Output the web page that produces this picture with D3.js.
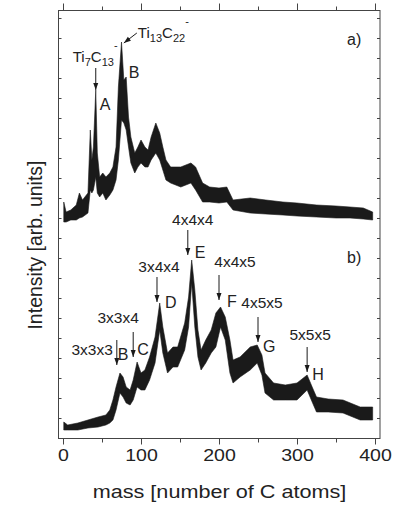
<!DOCTYPE html>
<html>
<head>
<meta charset="utf-8">
<script src="https://cdn.jsdelivr.net/npm/d3@7"></script>
<style>
  html, body { margin: 0; padding: 0; background: #fff; }
  svg { display: block; font-family: "Liberation Sans", Arial, sans-serif; }
</style>
</head>
<body>
<script>
// Spectrum a) (upper trace): mass and the low/high edges of the noisy band (arb. units)
const massA = [1, 4, 10, 17, 21, 25, 32, 35, 37, 39, 42, 44, 47, 51, 55, 60, 64, 68, 71, 75, 78, 81, 84, 87, 92, 96, 100, 105, 109, 113, 119, 124, 128, 132, 138, 151, 164, 170, 179, 188, 200, 210, 218, 240, 260, 282, 300, 325, 350, 368, 385, 397];
const hiA = [11.8, 11.3, 11.4, 11.65, 12.25, 11.9, 12.25, 15.4, 13.9, 14.55, 17.4, 14.25, 13.05, 13.25, 13.05, 13.25, 13.55, 14.55, 17.55, 19.8, 17.9, 18.05, 16.05, 15.05, 14.25, 14.55, 14.9, 14.55, 14.4, 15.05, 15.75, 15.25, 14.55, 13.9, 13.55, 13.55, 13.75, 13.55, 12.75, 12.55, 12.5, 12.55, 11.9, 12.0, 11.9, 11.8, 11.75, 11.65, 11.6, 11.55, 11.5, 11.3];
const loA = [10.8, 10.8, 10.9, 10.9, 11.0, 11.05, 11.25, 12.4, 12.25, 12.4, 13.05, 12.25, 12.05, 12.25, 11.9, 12.15, 12.4, 12.9, 13.9, 15.9, 15.75, 15.4, 14.55, 13.75, 13.25, 13.55, 13.75, 13.55, 13.55, 13.9, 14.25, 13.9, 13.4, 12.9, 12.75, 12.55, 12.75, 12.4, 11.8, 11.8, 11.75, 11.8, 11.4, 11.25, 11.2, 11.15, 11.1, 11.05, 11.0, 11.0, 10.95, 10.9];

// Spectrum b) (lower trace)
const massB = [1, 6, 19, 32, 45, 55, 60, 64, 68, 73, 77, 81, 86, 90, 95, 100, 105, 111, 118, 124, 128, 134, 141, 147, 156, 161, 165, 169, 173, 177, 183, 190, 196, 202, 208, 214, 218, 227, 240, 249, 255, 259, 270, 285, 300, 313, 320, 325, 340, 359, 381, 397];
const hiB = [0.8, 0.65, 0.75, 0.9, 1.05, 1.15, 1.4, 1.9, 2.55, 3.25, 3.05, 2.55, 2.4, 2.9, 3.8, 3.25, 3.4, 4.05, 5.05, 6.75, 5.55, 4.25, 4.55, 4.55, 5.75, 7.05, 8.9, 7.4, 5.4, 4.4, 4.9, 5.4, 6.25, 6.55, 6.05, 4.9, 3.9, 4.05, 4.55, 4.65, 4.15, 3.25, 2.75, 2.65, 2.75, 3.15, 2.5, 2.05, 1.95, 1.9, 1.55, 1.55];
const loB = [0.4, 0.4, 0.4, 0.5, 0.55, 0.65, 0.75, 0.9, 1.4, 2.25, 2.05, 1.75, 1.65, 1.9, 2.55, 2.4, 2.4, 2.9, 3.75, 5.4, 4.25, 3.25, 3.55, 3.55, 4.4, 5.55, 7.75, 5.55, 4.05, 3.4, 3.75, 4.25, 4.55, 5.55, 4.9, 3.25, 2.75, 3.05, 3.4, 3.75, 3.15, 2.25, 1.9, 1.9, 1.9, 2.4, 1.75, 1.3, 1.3, 1.25, 0.9, 0.9];

// Peak annotations for b)
const peakLetters = ["B", "C", "D", "E", "F", "G", "H"];
const peakMass = [69, 90, 120.5, 160, 200, 250, 313];
const peakTip = [3.65, 4.05, 6.8, 9.15, 6.9, 4.8, 3.3];
const clusterLabels = ["3x3x3", "3x3x4", "3x4x4", "4x4x4", "4x4x5", "4x5x5", "5x5x5"];

// Peak annotations for a)
const ionMass = [42, 78];
const ionTip = [17.4, 19.75];

const xTicksMajor = [0, 100, 200, 300, 400];
const xTicksMinor = [50, 150, 250, 350];

const W = 395, H = 509;
const ink = "#1a1a1a", textInk = "#222", frame = "#444";

const svg = d3.select("body").append("svg").attr("width", W).attr("height", H);

const x = d3.scaleLinear().domain([0, 400]).range([63, 375]);
const y = d3.scaleLinear().domain([0, 21.4]).range([438, 10]);

// spectra as filled noise bands
const area = d3.area()
  .x(d => x(d.m))
  .y0(d => y(d.lo))
  .y1(d => y(d.hi));

const specA = massA.map((m, i) => ({ m, lo: loA[i], hi: hiA[i] }));
const specB = massB.map((m, i) => ({ m, lo: loB[i], hi: hiB[i] }));

[specA, specB].forEach(s => {
  svg.append("path").datum(s)
    .attr("d", area)
    .attr("fill", ink)
    .attr("stroke", ink)
    .attr("stroke-width", 0.6);
});

// frame
svg.append("rect")
  .attr("x", 58.5).attr("y", 10.5)
  .attr("width", 321.5).attr("height", 428)
  .attr("fill", "none").attr("stroke", frame).attr("stroke-width", 1);

function styleAxis(g) {
  g.select(".domain").remove();
  g.selectAll("line").attr("stroke", frame);
}

// bottom axis
svg.append("g").attr("transform", "translate(0,438.5)")
  .call(d3.axisBottom(x).tickValues(xTicksMinor).tickSize(4).tickFormat(""))
  .call(styleAxis);
const bottom = svg.append("g").attr("transform", "translate(0,438.5)")
  .call(d3.axisBottom(x).tickValues(xTicksMajor).tickSize(6).tickPadding(4).tickFormat(d3.format("d")))
  .call(styleAxis);
bottom.selectAll("text")
  .attr("font-size", 17)
  .attr("font-family", "Liberation Sans, Arial, sans-serif")
  .attr("fill", textInk)
  .attr("transform", "scale(1.15,1)");

// top axis
svg.append("g").attr("transform", "translate(0,10.5)")
  .call(d3.axisTop(x).tickValues(xTicksMinor).tickSize(4).tickFormat(""))
  .call(styleAxis);
svg.append("g").attr("transform", "translate(0,10.5)")
  .call(d3.axisTop(x).tickValues(xTicksMajor).tickSize(7).tickFormat(""))
  .call(styleAxis);

// left and right inner ticks
const yTicks = d3.range(1, 22);
svg.append("g").attr("transform", "translate(58.5,0)")
  .call(d3.axisRight(y).tickValues(yTicks).tickSize(3).tickFormat(""))
  .call(styleAxis);
svg.append("g").attr("transform", "translate(380,0)")
  .call(d3.axisLeft(y).tickValues(yTicks).tickSize(3).tickFormat(""))
  .call(styleAxis);

// axis titles
svg.append("text")
  .attr("transform", "translate(219.5,498) scale(1.17,1)")
  .attr("text-anchor", "middle")
  .attr("font-size", 18.5)
  .attr("fill", textInk)
  .text("mass [number of C atoms]");

svg.append("text")
  .attr("transform", "translate(42,245) rotate(-90)")
  .attr("text-anchor", "middle")
  .attr("font-size", 19.5)
  .attr("fill", textInk)
  .text("Intensity [arb. units]");

// arrows
function arrow(x1, y1, x2, y2) {
  svg.append("line")
    .attr("x1", x1).attr("y1", y1).attr("x2", x2).attr("y2", y2)
    .attr("stroke", ink).attr("stroke-width", 1);
  const a = Math.atan2(y2 - y1, x2 - x1);
  const len = 7, half = 2.5;
  const bx = x2 - len * Math.cos(a), by = y2 - len * Math.sin(a);
  const p = [
    [x2, y2],
    [bx + half * Math.sin(a), by - half * Math.cos(a)],
    [bx - half * Math.sin(a), by + half * Math.cos(a)]
  ];
  svg.append("path").attr("d", "M" + p.join("L") + "Z").attr("fill", ink);
}

// b) annotations
const letterDx = [1, 4, 8, 7, 8, 5, 5];
const letterDy = [-5, -2, 6, 3, 7, 10, 8];
const labelDx = [-4, -15, 2, 5, 16, 4, 3];
const labelDy = [15, -9, -5, -5, -8, -9, -7];
peakLetters.forEach((L, i) => {
  const px = x(peakMass[i]), tip = y(peakTip[i]);
  const top = tip - 25;
  arrow(px, top, px, tip);
  svg.append("text")
    .attr("x", px + letterDx[i]).attr("y", tip + letterDy[i])
    .attr("font-size", 16).attr("fill", textInk)
    .text(L);
  svg.append("text")
    .attr("x", px + labelDx[i]).attr("y", top + labelDy[i])
    .attr("text-anchor", i === 0 ? "end" : "middle")
    .attr("font-size", 15.5).attr("fill", textInk)
    .text(clusterLabels[i]);
});

// a) annotations
{
  const px = x(ionMass[0]), tip = y(ionTip[0]);
  arrow(px, tip - 22, px, tip);
  svg.append("text").attr("x", px + 4).attr("y", tip + 20)
    .attr("font-size", 16).attr("fill", textInk).text("A");
  const t = svg.append("text").attr("x", px - 23).attr("y", tip - 28)
    .attr("font-size", 15).attr("fill", textInk);
  t.append("tspan").text("Ti");
  t.append("tspan").attr("font-size", 11).attr("dy", 4).text("7");
  t.append("tspan").attr("dy", -4).text("C");
  t.append("tspan").attr("font-size", 11).attr("dy", 4).text("13");
  t.append("tspan").attr("font-size", 11).attr("dy", -17).text("-");
}
{
  const px = x(ionMass[1]), tip = y(ionTip[1]);
  arrow(px + 13, tip - 10, px, tip);
  svg.append("text").attr("x", px + 5).attr("y", tip + 35)
    .attr("font-size", 16).attr("fill", textInk).text("B");
  const t = svg.append("text").attr("x", px + 14).attr("y", tip - 5)
    .attr("font-size", 15).attr("fill", textInk);
  t.append("tspan").text("Ti");
  t.append("tspan").attr("font-size", 11).attr("dy", 4).text("13");
  t.append("tspan").attr("dy", -4).text("C");
  t.append("tspan").attr("font-size", 11).attr("dy", 4).text("22");
  t.append("tspan").attr("font-size", 11).attr("dy", -17).text("-");
}

svg.append("text").attr("x", 347).attr("y", 45)
  .attr("font-size", 16).attr("fill", textInk).text("a)");
svg.append("text").attr("x", 347).attr("y", 263)
  .attr("font-size", 16).attr("fill", textInk).text("b)");
</script>
</body>
</html>
